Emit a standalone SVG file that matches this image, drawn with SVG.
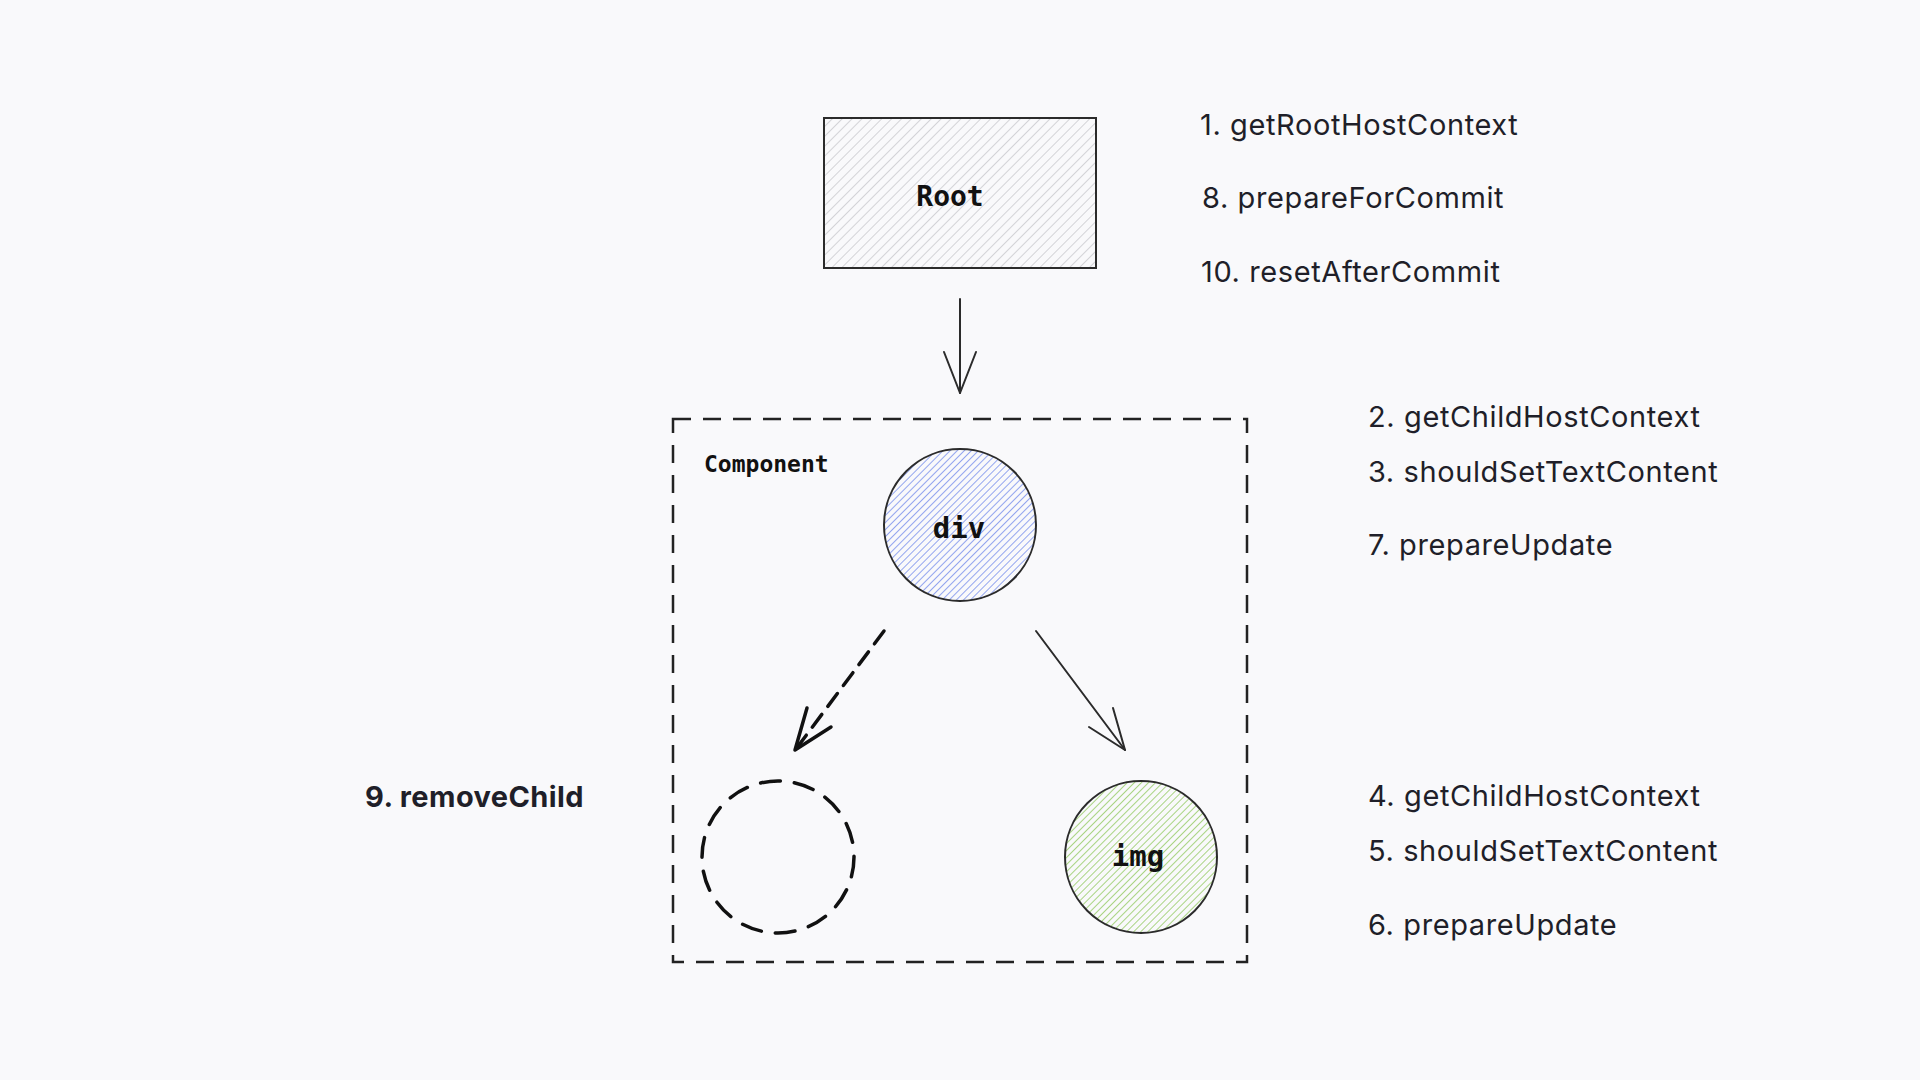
<svg xmlns="http://www.w3.org/2000/svg" width="1920" height="1080" viewBox="0 0 1920 1080">
  <style>
    .label { font-family: Inter, "Noto Sans", "Liberation Sans", sans-serif; font-size: 29px; letter-spacing: 0.6px; fill: #1f1f29; }
    .bold { font-weight: 700; letter-spacing: 0.4px; }
    .mono { font-family: "DejaVu Sans Mono", "Liberation Mono", monospace; font-weight: 700; fill: #111; }
    .node-stroke { stroke: #2b2b2b; stroke-width: 2; }
    .thin { fill: none; stroke: #2b2b2b; stroke-width: 2; stroke-linecap: round; stroke-linejoin: round; }
    .heavy { fill: none; stroke: #111; stroke-width: 3.5; stroke-linecap: round; stroke-linejoin: round; }
  </style>
  <defs>
    <pattern id="hatch-grey" patternUnits="userSpaceOnUse" width="7" height="7" patternTransform="rotate(45)">
      <line x1="0" y1="0" x2="0" y2="7" stroke="#d3d3d7" stroke-width="2"/>
    </pattern>
    <pattern id="hatch-blue" patternUnits="userSpaceOnUse" width="5" height="5" patternTransform="rotate(45)">
      <line x1="0" y1="0" x2="0" y2="5" stroke="#93a5ef" stroke-width="2"/>
    </pattern>
    <pattern id="hatch-green" patternUnits="userSpaceOnUse" width="5" height="5" patternTransform="rotate(45)">
      <line x1="0" y1="0" x2="0" y2="5" stroke="#a9d483" stroke-width="2"/>
    </pattern>
  </defs>

  <rect width="1920" height="1080" fill="#f9f9fb"/>

  <!-- Root node -->
  <g id="root">
    <rect x="824" y="118" width="272" height="150" fill="url(#hatch-grey)" class="node-stroke"/>
    <text x="950" y="206" class="mono" font-size="28" text-anchor="middle">Root</text>
  </g>

  <!-- Component boundary -->
  <g id="component">
    <rect x="673" y="419" width="574" height="543" fill="none" stroke="#222" stroke-width="2.5" stroke-dasharray="18 12"/>
    <text x="704" y="472" class="mono" font-size="23">Component</text>
  </g>

  <!-- div node -->
  <g id="div">
    <circle cx="960" cy="525" r="76" fill="url(#hatch-blue)" class="node-stroke"/>
    <text x="959" y="538" class="mono" font-size="29" text-anchor="middle">div</text>
  </g>

  <!-- removed child (dashed placeholder) -->
  <g id="removed">
    <circle cx="778" cy="857" r="76" class="heavy" stroke-dasharray="20 14" stroke-linecap="butt"/>
  </g>

  <!-- img node -->
  <g id="img">
    <circle cx="1141" cy="857" r="76" fill="url(#hatch-green)" class="node-stroke"/>
    <text x="1138" y="866" class="mono" font-size="29" text-anchor="middle">img</text>
  </g>

  <!-- connectors -->
  <g id="connectors">
    <line x1="960" y1="299" x2="960" y2="393" class="thin"/>
    <polyline points="944,352 960,393 976,352" class="thin"/>

    <line x1="884" y1="631" x2="796" y2="749" class="heavy" stroke-dasharray="16 10" stroke-linecap="butt"/>
    <polyline points="807,708 795,750 831,727" class="heavy"/>

    <line x1="1036" y1="631" x2="1125" y2="750" class="thin"/>
    <polyline points="1113,708 1125,750 1089,727" class="thin"/>
  </g>

  <!-- lifecycle labels -->
  <g id="labels">
    <text x="1200" y="135" class="label">1. getRootHostContext</text>
    <text x="1202" y="208" class="label">8. prepareForCommit</text>
    <text x="1201" y="282" class="label">10. resetAfterCommit</text>

    <text x="1368" y="427" class="label">2. getChildHostContext</text>
    <text x="1368" y="482" class="label">3. shouldSetTextContent</text>
    <text x="1368" y="555" class="label">7. prepareUpdate</text>

    <text x="1368" y="806" class="label">4. getChildHostContext</text>
    <text x="1368" y="861" class="label">5. shouldSetTextContent</text>
    <text x="1368" y="935" class="label">6. prepareUpdate</text>

    <text x="365" y="807" class="label bold">9. removeChild</text>
  </g>
</svg>
